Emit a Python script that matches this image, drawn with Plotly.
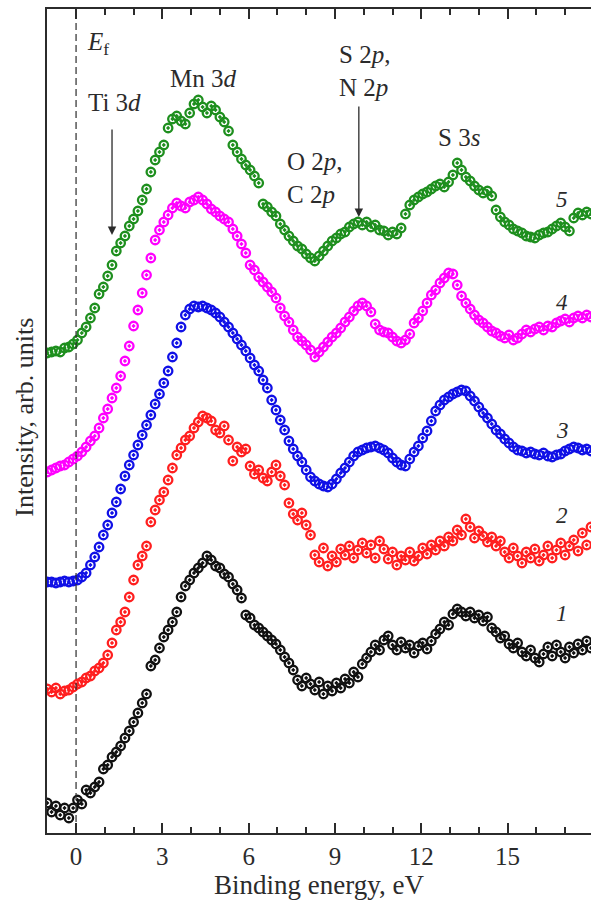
import plotly.graph_objects as go

# Binding energy grid (eV)
energy = [-1.0, -0.85, -0.7, -0.55, -0.4, -0.25, -0.1, 0.05, 0.2, 0.35, 0.5, 0.65, 0.8, 0.95,
          1.1, 1.25, 1.4, 1.55, 1.7, 1.85, 2.0, 2.15, 2.3, 2.45, 2.6, 2.75, 2.9, 3.05, 3.2, 3.35,
          3.5, 3.65, 3.8, 3.95, 4.1, 4.25, 4.4, 4.55, 4.7, 4.85, 5.0, 5.15, 5.3, 5.45, 5.6, 5.75,
          5.9, 6.05, 6.2, 6.35, 6.5, 6.65, 6.8, 6.95, 7.1, 7.25, 7.4, 7.55, 7.7, 7.85, 8.0, 8.15,
          8.3, 8.45, 8.6, 8.75, 8.9, 9.05, 9.2, 9.35, 9.5, 9.65, 9.8, 9.95, 10.1, 10.25, 10.4,
          10.55, 10.7, 10.85, 11.0, 11.15, 11.3, 11.45, 11.6, 11.75, 11.9, 12.05, 12.2, 12.35,
          12.5, 12.65, 12.8, 12.95, 13.1, 13.25, 13.4, 13.55, 13.7, 13.85, 14.0, 14.15, 14.3,
          14.45, 14.6, 14.75, 14.9, 15.05, 15.2, 15.35, 15.5, 15.65, 15.8, 15.95, 16.1, 16.25,
          16.4, 16.55, 16.7, 16.85, 17.0, 17.15, 17.3, 17.45, 17.6, 17.75, 17.9]

# Intensities (arb. units, curves already vertically offset)
spec5 = [48.0, 48.1, 48.2, 48.1, 48.5, 48.6, 48.9, 49.3, 50.0, 50.6, 51.5, 52.5, 53.9, 54.6,
         55.7, 56.8, 58.2, 59.0, 59.7, 60.7, 61.4, 62.2, 63.3, 64.4, 66.1, 67.3, 68.1, 68.8,
         70.5, 71.4, 71.7, 71.2, 70.9, 72.0, 72.9, 73.3, 72.6, 72.0, 72.7, 72.3, 71.6, 71.1,
         70.2, 68.8, 68.1, 67.4, 66.8, 66.3, 65.7, 65.0, 62.9, 62.6, 62.1, 61.7, 60.9, 60.3,
         59.7, 59.2, 58.7, 58.4, 57.9, 57.5, 57.2, 57.7, 58.2, 58.7, 59.2, 59.5, 59.9, 60.1,
         60.6, 60.9, 61.1, 60.8, 61.1, 60.6, 60.8, 60.3, 60.2, 59.8, 60.1, 59.9, 60.5, 61.9,
         62.8, 63.3, 63.6, 63.9, 64.1, 64.4, 64.7, 64.9, 64.6, 65.1, 65.8, 67.0, 66.3, 65.6,
         65.2, 64.7, 64.3, 64.0, 64.2, 63.7, 62.3, 61.6, 61.1, 60.8, 60.4, 60.2, 60.0, 59.7,
         59.6, 59.5, 59.8, 60.0, 60.1, 60.4, 60.7, 61.0, 60.6, 60.2, 61.5, 62.0, 61.8, 62.1,
         61.9]

spec4 = [36.1, 36.3, 36.5, 36.7, 36.8, 37.1, 37.4, 37.7, 38.1, 38.6, 39.2, 39.7, 40.5, 41.5,
         42.4, 43.5, 44.5, 45.7, 47.2, 48.7, 50.7, 52.3, 54.0, 55.8, 57.5, 59.3, 60.3, 61.1,
         61.8, 62.5, 63.0, 62.7, 62.5, 63.1, 63.3, 63.6, 63.3, 62.9, 62.4, 62.1, 61.7, 61.4,
         61.1, 60.4, 59.7, 58.9, 58.0, 56.8, 56.3, 55.6, 55.1, 54.6, 54.1, 53.5, 52.5, 51.7,
         51.1, 50.3, 49.6, 49.2, 48.8, 48.3, 47.6, 48.1, 48.6, 49.1, 49.6, 50.0, 50.5, 51.1,
         51.6, 52.2, 52.7, 53.0, 52.7, 52.1, 50.9, 50.3, 50.1, 50.0, 49.6, 49.2, 49.0, 49.3,
         49.9, 51.0, 51.5, 52.2, 53.0, 53.8, 54.3, 55.0, 55.5, 56.0, 55.9, 54.8, 53.7, 53.0,
         52.4, 51.8, 51.3, 51.0, 50.6, 50.2, 50.0, 49.7, 49.5, 49.8, 49.3, 49.5, 49.9, 50.3,
         50.1, 50.4, 50.6, 50.3, 50.7, 50.6, 51.0, 51.2, 51.4, 51.1, 51.5, 51.7, 51.5, 51.8,
         51.6]

spec3 = [25.1, 25.1, 25.0, 25.1, 25.2, 25.1, 25.2, 25.3, 25.6, 26.0, 26.8, 27.6, 28.6, 29.8,
         30.8, 32.0, 33.1, 34.4, 35.7, 36.8, 37.8, 38.8, 39.8, 40.8, 41.8, 42.9, 43.9, 45.0,
         46.2, 47.6, 49.0, 50.6, 51.8, 52.4, 52.7, 52.6, 52.7, 52.5, 52.3, 52.0, 51.6, 51.1,
         50.6, 50.0, 49.4, 48.8, 48.2, 47.5, 46.8, 46.2, 45.3, 44.5, 43.3, 42.3, 41.3, 40.3,
         39.2, 38.4, 37.7, 37.1, 36.3, 35.6, 35.2, 34.9, 34.7, 34.6, 34.9, 35.4, 36.0, 36.5,
         37.1, 37.7, 38.1, 38.3, 38.5, 38.6, 38.7, 38.5, 38.3, 38.0, 37.5, 37.1, 36.8, 36.7,
         37.4, 38.1, 38.7, 39.5, 40.2, 41.2, 42.2, 42.8, 43.3, 43.6, 43.9, 44.1, 44.3, 44.2,
         43.7, 43.2, 42.6, 42.0, 41.5, 40.9, 40.3, 39.9, 39.4, 39.0, 38.6, 38.3, 38.2, 38.0,
         38.1, 37.9, 37.8, 38.0, 37.7, 37.6, 37.8, 37.9, 38.2, 38.4, 38.6, 38.5, 38.3, 38.4,
         38.2]

spec2 = [14.4, 14.1, 14.5, 13.9, 14.2, 14.3, 14.6, 14.9, 15.1, 15.5, 15.7, 16.2, 16.5, 17.0,
         17.8, 19.0, 20.3, 21.1, 22.1, 23.6, 25.3, 26.8, 27.7, 28.7, 31.1, 32.3, 33.3, 34.1,
         35.3, 36.5, 37.8, 38.5, 39.3, 39.7, 40.5, 41.1, 41.7, 41.5, 41.2, 40.3, 40.0, 40.7,
         39.3, 37.2, 38.6, 38.1, 38.4, 36.7, 35.9, 36.3, 35.5, 35.2, 36.1, 36.8, 35.7, 34.8,
         33.0, 31.9, 31.3, 32.0, 30.8, 29.8, 27.8, 27.1, 28.5, 26.7, 27.7, 27.1, 28.4, 27.8,
         28.7, 27.5, 28.3, 29.0, 28.0, 28.8, 27.5, 29.2, 28.4, 27.4, 28.1, 26.8, 27.7, 27.3,
         28.1, 27.2, 27.7, 28.5, 27.9, 28.8, 28.3, 29.2, 28.7, 29.6, 29.2, 30.3, 29.8, 31.4,
         30.6, 29.5, 30.2, 29.7, 29.1, 29.6, 28.7, 29.2, 28.1, 27.5, 28.5, 27.7, 27.0, 28.1,
         27.5, 28.4, 27.2, 27.8, 28.7, 27.5, 28.3, 29.0, 27.8, 28.7, 29.3, 28.2, 30.0, 28.8,
         30.6]

spec1 = [3.0, 2.1, 2.7, 1.8, 2.5, 1.5, 2.5, 3.3, 2.9, 4.3, 4.0, 4.6, 5.1, 6.4,
         6.8, 7.6, 8.1, 8.7, 9.5, 10.2, 11.1, 12.0, 13.0, 13.9, 16.7, 17.3, 18.5, 19.6,
         20.3, 21.1, 22.1, 23.6, 24.7, 25.3, 26.0, 26.5, 27.0, 27.7, 27.3, 26.7, 26.5, 25.9,
         25.6, 24.9, 24.3, 23.5, 21.8, 21.5, 20.8, 20.5, 20.1, 19.7, 19.3, 18.9, 18.3, 17.6,
         17.0, 16.3, 15.3, 14.7, 15.5, 14.9, 14.3, 15.1, 13.9, 14.7, 14.2, 15.0, 14.5, 15.4,
         15.0, 16.1, 15.6, 16.9, 17.5, 18.1, 18.8, 18.3, 19.3, 19.7, 18.8, 18.3, 19.1, 18.5,
         18.8, 18.0, 18.7, 19.0, 18.4, 19.2, 19.9, 20.4, 21.1, 20.8, 21.9, 22.4, 22.1, 21.7,
         22.1, 21.5, 21.8, 21.2, 21.6, 20.5, 20.1, 19.5, 19.7, 18.9, 18.5, 19.0, 18.1, 17.7,
         18.3, 17.5, 17.1, 17.9, 18.6, 17.7, 18.8, 18.1, 17.5, 18.6, 18.0, 18.9, 18.3, 19.2,
         18.5]

curve_labels = ["1", "2", "3", "4", "5"]
curve_colors = ["#111111", "#ff1f1f", "#1010e6", "#ff00ff", "#1e8f1e"]
spectra = [spec1, spec2, spec3, spec4, spec5]

# Curve number label positions (energy, intensity)
label_pos = [(16.9, 22.0), (16.9, 31.8), (16.9, 40.3), (16.9, 53.1), (16.9, 63.4)]

FONT = "Liberation Serif, Times New Roman, serif"
INK = "#2b2b2b"

fig = go.Figure()

for spec, col, name in zip(spectra, curve_colors, curve_labels):
    n = min(len(energy), len(spec))
    fig.add_trace(go.Scatter(
        x=energy[:n], y=spec[:n], mode="markers", name=name,
        marker=dict(symbol="circle-open-dot", size=8.5, color=col,
                    line=dict(width=2.3, color=col)),
        showlegend=False,
    ))

# Fermi level dashed line
fig.add_shape(type="line", xref="x", yref="paper", x0=0, x1=0, y0=0, y1=1,
              line=dict(color=INK, width=1.2, dash="7px,4px"))

ann = []
for (ex, iy), lab in zip(label_pos, curve_labels):
    ann.append(dict(x=ex, y=iy, xref="x", yref="y", text=f"<i>{lab}</i>", showarrow=False,
                    font=dict(family=FONT, size=23, color=INK)))

ann += [
    dict(x=0.76, y=79.0, text="<i>E</i><sub>f</sub>", showarrow=False),
    dict(x=1.35, y=73.1, text="Ti 3<i>d</i>", showarrow=False),
    dict(x=4.41, y=75.5, text="Mn 3<i>d</i>", showarrow=False),
    dict(x=7.26, y=65.5, text="O 2<i>p</i>,<br>C 2<i>p</i>", showarrow=False,
         xanchor="left", align="left"),
    dict(x=9.06, y=76.2, text="S 2<i>p</i>,<br>N 2<i>p</i>", showarrow=False,
         xanchor="left", align="left"),
    dict(x=13.3, y=69.6, text="S 3<i>s</i>", showarrow=False),
    # arrows
    dict(x=1.25, y=59.8, ax=0, ay=-107, text="", showarrow=True, arrowhead=2,
         arrowsize=1.3, arrowwidth=1.3, arrowcolor=INK),
    dict(x=9.83, y=61.6, ax=0, ay=-112, text="", showarrow=True, arrowhead=2,
         arrowsize=1.3, arrowwidth=1.3, arrowcolor=INK),
    # y axis title
    dict(x=-0.0404, y=0.504, xref="paper", yref="paper", text="Intensity, arb. units",
         textangle=-90, showarrow=False, xanchor="center", yanchor="middle",
         font=dict(family=FONT, size=26, color=INK)),
]
for a in ann:
    a.setdefault("xref", "x")
    a.setdefault("yref", "y")
    a.setdefault("font", dict(family=FONT, size=25, color=INK))

fig.update_layout(
    width=591, height=904,
    margin=dict(l=47, r=0, t=9, b=71),
    paper_bgcolor="white", plot_bgcolor="white",
    font=dict(family=FONT, color=INK, size=25),
    annotations=ann,
    xaxis=dict(
        range=[-1.01, 17.9], showgrid=False, zeroline=False,
        showline=True, linewidth=2, linecolor=INK, mirror="allticks",
        ticks="inside", ticklen=10, tickwidth=1.5, tickcolor=INK,
        tick0=0, dtick=3, tickfont=dict(family=FONT, size=25, color=INK),
        minor=dict(ticks="inside", ticklen=6, tickwidth=1.5, tickcolor=INK, dtick=1, tick0=0),
        title=dict(text="Binding energy, eV", font=dict(family=FONT, size=27, color=INK),
                   standoff=4),
    ),
    yaxis=dict(
        range=[0, 82.4], showgrid=False, zeroline=False, showticklabels=False,
        showline=True, linewidth=2, linecolor=INK, ticks="",
    ),
)

fig.write_html("out.html")
